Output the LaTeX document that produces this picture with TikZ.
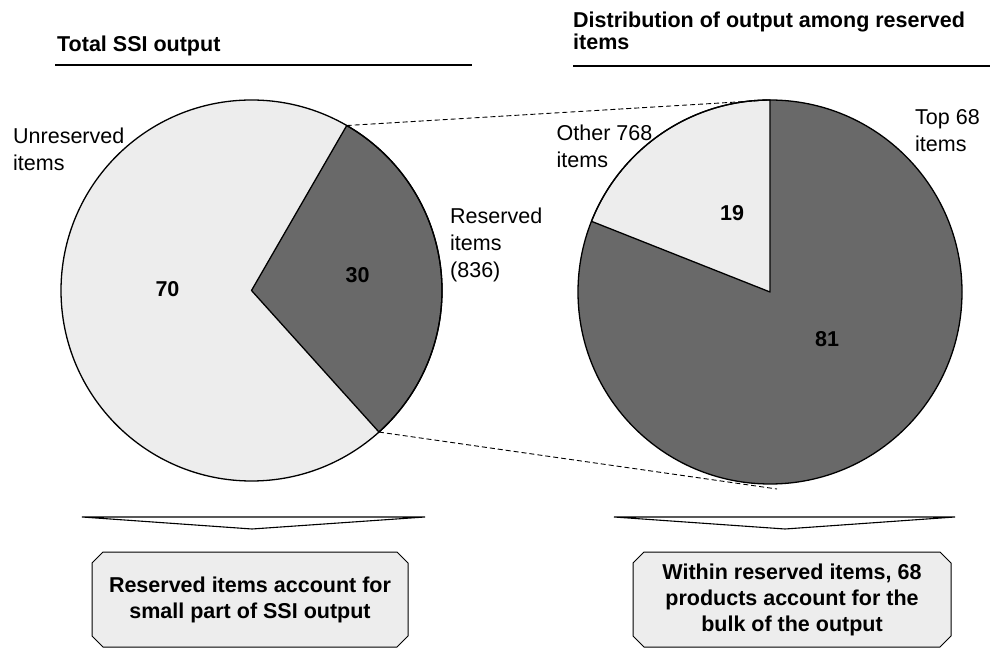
\documentclass[tikz,border=0pt]{standalone}
\usepackage{fontspec}
\setmainfont{Liberation Sans}
\usetikzlibrary{shapes.misc}
\definecolor{lightpie}{HTML}{EDEDED}
\definecolor{darkpie}{HTML}{696969}
\tikzset{
  pieline/.style={line width=1.3pt, line join=round},
  lbl/.style={anchor=north west, inner sep=0pt, align=left, font=\fontsize{21.5}{27}\selectfont},
  pct/.style={inner sep=0pt, font=\fontsize{21.5}{27}\selectfont\bfseries},
  ttl/.style={anchor=north west, inner sep=0pt, align=left, font=\fontsize{21.5}{22}\selectfont\bfseries},
  msgbox/.style={draw, chamfered rectangle, chamfered rectangle xsep=5pt, chamfered rectangle ysep=6pt,
    line width=1pt, fill=lightpie, minimum width=316pt, minimum height=95pt, inner sep=0pt,
    align=center, font=\fontsize{21.5}{26}\selectfont\bfseries},
  zoomline/.style={dash pattern=on 5pt off 3pt, line width=0.9pt},
  chev/.style={line width=1.1pt, line join=miter}
}
\begin{document}
\begin{tikzpicture}[x=1pt,y=1pt]
\useasboundingbox (0,0) rectangle (990,648);

% headings
\node[ttl] (lefttitle) at (57,612) {Total SSI output};
\draw[line width=1.2pt] (55,583) -- (472,583);
\node[ttl] (righttitle) at (573,636) {Distribution of output among reserved\\items};
\draw[line width=1.2pt] (573,582) -- (990,582);

% total output pie
\coordinate (lc) at (251.5,357.5);
\fill[lightpie] (lc) circle[radius=190.5];
\filldraw[fill=darkpie, pieline] (lc) -- ++(-48:190.5) arc[start angle=-48, end angle=60, radius=190.5] -- cycle;
\draw[pieline] (lc) circle[radius=190.5];
\path (lc) ++(60:190.5) coordinate (lefttop);
\path (lc) ++(-48:190.5) coordinate (leftlow);

% reserved items pie
\coordinate (rc) at (770,356);
\fill[darkpie] (rc) circle[radius=192];
\filldraw[fill=lightpie, pieline] (rc) -- ++(90:192) arc[start angle=90, end angle=158.4, radius=192] -- cycle;
\draw[pieline] (rc) circle[radius=192];
\path (rc) ++(90:192) coordinate (righttop);
\coordinate (rightlow) at (777,159);

\draw[zoomline] (lefttop) -- (righttop);
\draw[zoomline] (leftlow) -- (rightlow);

% labels
\node[lbl] (unres) at (13,520.5) {Unreserved\\items};
\node[lbl] (res) at (450,440) {Reserved\\items\\(836)};
\node[lbl] (other) at (556.5,523) {Other 768\\items};
\node[lbl] (topitems) at (915,539) {Top 68\\items};

\node[pct] (p70) at (167.5,358.5) {70};
\node[pct] (p30) at (357.5,373) {30};
\node[pct] (p19) at (732,435) {19};
\node[pct] (p81) at (827,309) {81};

% conclusions
\draw[chev] (82,131) -- (425,131) -- (252,119) -- cycle;
\draw[chev] (614,131) -- (955,131) -- (785,119) -- cycle;
\node[msgbox] (leftmsg) at (250,48.5) {Reserved items account for\\small part of SSI output};
\node[msgbox, minimum width=318pt] (rightmsg) at (792,48.5) {Within reserved items, 68\\products account for the\\bulk of the output};
\end{tikzpicture}
\end{document}
